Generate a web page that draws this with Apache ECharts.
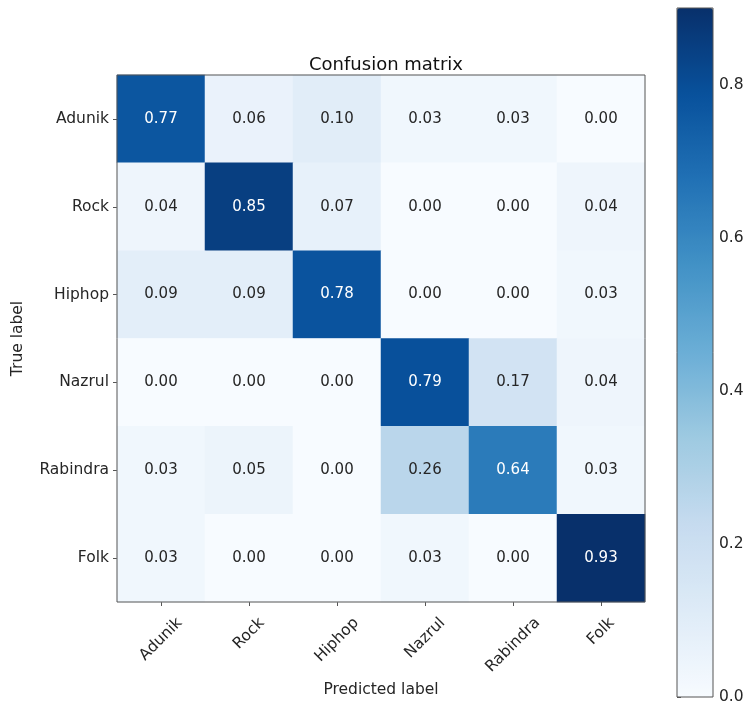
<!DOCTYPE html>
<html>
<head>
<meta charset="utf-8">
<script src="https://cdn.jsdelivr.net/npm/echarts@6/dist/echarts.min.js"></script>
<style>
  html, body { margin: 0; padding: 0; background: #fff; }
  #chart { width: 749px; height: 708px; }
</style>
</head>
<body>
<div id="chart"></div>
<script>
// categories (same for true and predicted)
const labels = ['Adunik', 'Rock', 'Hiphop', 'Nazrul', 'Rabindra', 'Folk']

// confusion matrix rows = true label, cols = predicted label
const rowAdunik = [0.77, 0.06, 0.10, 0.03, 0.03, 0.00]
const rowRock = [0.04, 0.85, 0.07, 0.00, 0.00, 0.04]
const rowHiphop = [0.09, 0.09, 0.78, 0.00, 0.00, 0.03]
const rowNazrul = [0.00, 0.00, 0.00, 0.79, 0.17, 0.04]
const rowRabindra = [0.03, 0.05, 0.00, 0.26, 0.64, 0.03]
const rowFolk = [0.03, 0.00, 0.00, 0.03, 0.00, 0.93]

// colorbar ticks
const barTicks = [0, 0.2, 0.4, 0.6, 0.8]
const barMax = 0.9

const rows = [rowAdunik, rowRock, rowHiphop, rowNazrul, rowRabindra, rowFolk]
const dataMax = Math.max(...rows.flat())
const thresh = dataMax / 2

const blues = ['#f7fbff', '#deebf7', '#c6dbef', '#9ecae1', '#6baed6', '#4292c6', '#2171b5', '#08519c', '#08306b']
const font = 'DejaVu Sans'
const fontSize = 15.5
const ink = '#262626'
const frame = '#555'

const cells = []
rows.forEach((row, y) => {
  row.forEach((v, x) => {
    cells.push({
      value: [x, y, v],
      label: { color: v > thresh ? '#fff' : ink }
    })
  })
})

// matplotlib puts the top of a rotated label's box at the tick, so longer
// labels sit lower. shift each one by padding in its own rotated frame
const ctx = document.createElement('canvas').getContext('2d')
ctx.font = fontSize + 'px "' + font + '"'
const xRich = {}
labels.forEach((l, i) => {
  const w = ctx.measureText(l).width
  const d = (w + fontSize) / (2 * Math.SQRT2)
  const p = Math.SQRT2 * d
  xRich['l' + i] = { fontFamily: font, fontSize: fontSize, color: ink, padding: [p, p, 0, 0] }
})

const chart = echarts.init(document.getElementById('chart'), null, { renderer: 'canvas' })

chart.setOption({
  animation: false,
  backgroundColor: '#fff',
  title: {
    text: 'Confusion matrix',
    left: 381,
    top: 51,
    textAlign: 'center',
    textStyle: { fontFamily: font, fontSize: 18, fontWeight: 'normal', color: '#111' }
  },
  grid: [
    { left: 117, top: 75, width: 528, height: 527, show: true, borderColor: frame, borderWidth: 1, backgroundColor: 'transparent', z: 5 },
    { left: 677, top: 8, width: 36, height: 689, show: true, borderColor: frame, borderWidth: 1, backgroundColor: 'transparent', z: 5 }
  ],
  xAxis: [
    {
      type: 'category',
      data: labels,
      gridIndex: 0,
      position: 'bottom',
      name: 'Predicted label',
      nameLocation: 'middle',
      nameGap: 80,
      nameTextStyle: { fontFamily: font, fontSize: fontSize, color: ink },
      axisLine: { show: false },
      axisTick: { show: true, alignWithLabel: true, length: 4, lineStyle: { color: frame } },
      axisLabel: {
        rotate: 45,
        align: 'center',
        verticalAlign: 'middle',
        margin: 13,
        formatter: (v) => '{l' + labels.indexOf(v) + '|' + v + '}',
        rich: xRich,
        fontFamily: font,
        fontSize: fontSize,
        color: ink
      },
      splitLine: { show: false }
    },
    { type: 'value', gridIndex: 1, show: false, min: 0, max: 1 }
  ],
  yAxis: [
    {
      type: 'category',
      data: labels,
      gridIndex: 0,
      inverse: true,
      name: 'True label',
      nameLocation: 'middle',
      nameGap: 91,
      nameTextStyle: { fontFamily: font, fontSize: fontSize, color: ink },
      axisLine: { show: false },
      axisTick: { show: true, alignWithLabel: true, length: 4, lineStyle: { color: frame } },
      axisLabel: { margin: 8, fontFamily: font, fontSize: fontSize, color: ink },
      splitLine: { show: false }
    },
    {
      type: 'value',
      gridIndex: 1,
      position: 'right',
      min: 0,
      max: barMax,
      axisLine: { show: false },
      axisTick: { show: true, length: 4, customValues: barTicks, lineStyle: { color: frame } },
      axisLabel: {
        customValues: barTicks,
        margin: 6,
        formatter: (v) => v.toFixed(1),
        fontFamily: font,
        fontSize: fontSize,
        color: ink
      },
      splitLine: { show: false }
    }
  ],
  visualMap: {
    type: 'continuous',
    min: 0,
    max: barMax,
    calculable: false,
    hoverLink: false,
    seriesIndex: 0,
    left: 677,
    top: 8,
    padding: 0,
    itemWidth: 36,
    itemHeight: 689,
    text: ['', ''],
    inRange: { color: blues }
  },
  series: [
    {
      type: 'heatmap',
      xAxisIndex: 0,
      yAxisIndex: 0,
      data: cells,
      label: {
        show: true,
        formatter: (p) => p.value[2].toFixed(2),
        fontFamily: font,
        fontSize: 15
      },
      emphasis: { disabled: true }
    }
  ]
})
</script>
</body>
</html>
